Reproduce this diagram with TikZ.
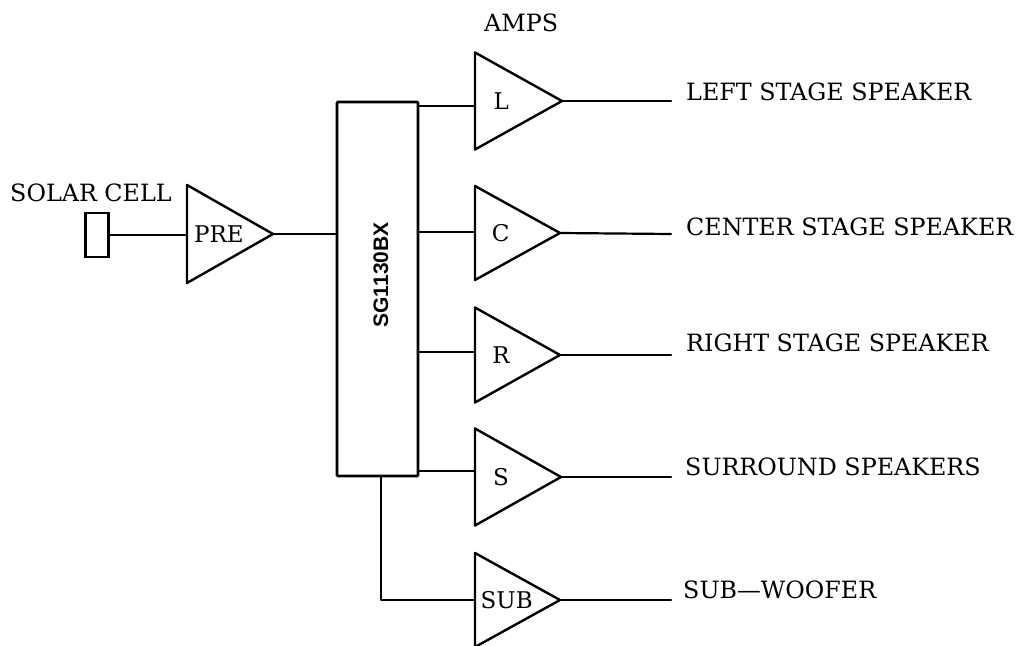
\documentclass[tikz,border=0pt]{standalone}
\usepackage{fontspec}
\setmainfont{DejaVu Serif}
\setsansfont{Liberation Sans}
\usetikzlibrary{shapes.geometric}
\tikzset{
  wire/.style={line width=2.2pt,line cap=round,line join=round},
  amp/.style={draw,line width=2.4pt,line join=round,outer sep=0pt,shape=isosceles triangle,isosceles triangle stretches,shape border rotate=0,inner sep=0pt,anchor=lower side,font=\fontsize{23}{25}\selectfont},
  lbl/.style={inner sep=0pt,anchor=west,font=\fontsize{23.8}{26}\selectfont},
  box/.style={draw,line width=2.6pt,rounded corners=1pt,outer sep=0pt}
}
\begin{document}
\begin{tikzpicture}[x=1pt,y=-1pt]
\useasboundingbox (0,0) rectangle (1017,645);
% amplifiers
\node[amp,minimum height=87pt,minimum width=97pt] (L) at (475,101) {L};
\node[amp,minimum height=85pt,minimum width=94pt] (C) at (475,233) {C};
\node[amp,minimum height=85pt,minimum width=95pt] (R) at (475,355) {R};
\node[amp,minimum height=86pt,minimum width=97pt] (S) at (475,477) {S};
\node[amp,minimum height=85pt,minimum width=94pt] (SUB) at (475,600) {SUB};
\node[amp,minimum height=86pt,minimum width=98pt] (PRE) at (187,234) {PRE};
% mixer and cell
\node[box,minimum width=81pt,minimum height=374pt,inner sep=0pt] (mix) at (377.5,289) {};
\node[inner sep=0pt,rotate=90,font=\sffamily\bfseries\fontsize{21}{23}\selectfont] (mixname) at (381,275) {SG1130BX};
\node[draw,line width=2.6pt,outer sep=0pt,minimum width=23pt,minimum height=44pt,inner sep=0pt] (cell) at (97,235) {};
% connector ends
\coordinate (Lin) at (475,106);
\coordinate (Cin) at (475,232);
\coordinate (Rin) at (475,352);
\coordinate (Sin) at (475,471);
\coordinate (SUBin) at (475,600);
\coordinate (subdrop) at (381,476);
\coordinate (Lout) at (671,101);
\coordinate (Cout) at (671,234);
\coordinate (Rout) at (671,355);
\coordinate (Sout) at (671,477);
\coordinate (SUBout) at (671,600);
% wires
\draw[wire] (cell.east) -- (cell.east -| PRE.lower side);
\draw[wire] (PRE.apex) -- (PRE.apex -| mix.west);
\foreach \a in {L,C,R,S} {
  \draw[wire] (mix.east |- \a in) -- (\a in);
  \draw[wire] (\a.apex) -- (\a out);
}
\draw[wire] (subdrop) |- (SUBin);
\draw[wire] (SUB.apex) -- (SUBout);
% labels
\node[lbl] (tamps) at (484,23) {AMPS};
\node[lbl] (tsolar) at (10,193) {SOLAR CELL};
\node[lbl] (tl) at (686,92) {LEFT STAGE SPEAKER};
\node[lbl] (tc) at (686,227) {CENTER STAGE SPEAKER};
\node[lbl] (tr) at (686,343) {RIGHT STAGE SPEAKER};
\node[lbl] (ts) at (685,467) {SURROUND SPEAKERS};
\node[lbl] (tw) at (683,590) {SUB---WOOFER};
\end{tikzpicture}
\end{document}
